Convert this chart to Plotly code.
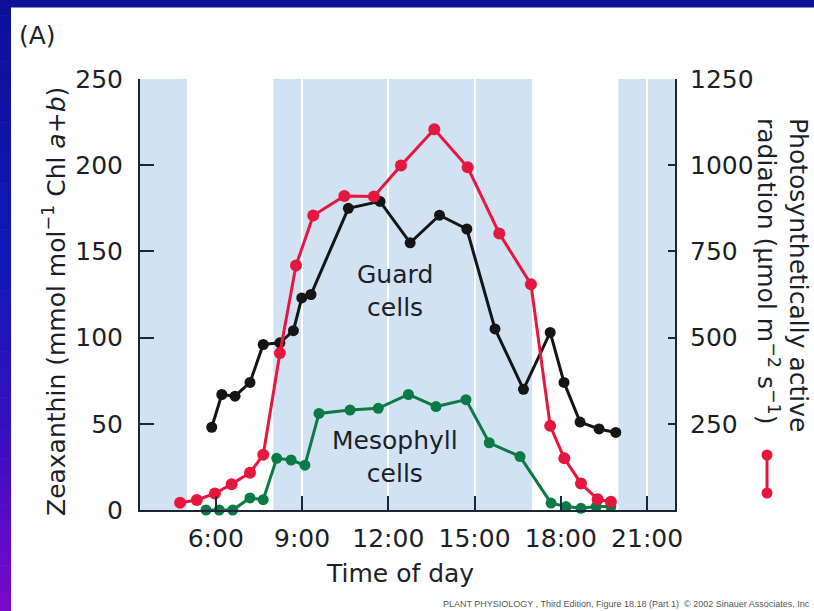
import plotly.graph_objects as go

# ---------------- data ----------------
guard_time = [5.86, 6.21, 6.67, 7.19, 7.65, 8.23, 8.70, 8.99, 9.31, 10.61, 11.71,
              12.76, 13.78, 14.73, 15.71, 16.70, 17.63, 18.11, 18.67, 19.33, 19.91]
guard_zea = [48, 67, 66, 74, 96, 97, 104, 123, 125, 175, 179,
             155, 171, 163, 105, 70, 103, 74, 51, 47, 45]

par_time = [4.76, 5.34, 5.97, 6.55, 7.19, 7.65, 8.23, 8.79, 9.39, 10.47, 11.50,
            12.44, 13.60, 14.76, 15.86, 16.96, 17.63, 18.12, 18.70, 19.28, 19.74]
par_value = [21, 29, 48, 75, 108, 160, 455, 709, 854, 911, 909,
             999, 1104, 994, 802, 655, 244, 150, 77, 31, 24]

meso_time = [5.66, 6.12, 6.59, 7.19, 7.65, 8.12, 8.62, 9.10, 9.59, 10.67, 11.65,
             12.70, 13.66, 14.70, 15.51, 16.58, 17.66, 18.18, 18.70, 19.23, 19.74]
meso_zea = [0, 0, 0, 7, 6, 30, 29, 26, 56, 58, 59,
            67, 60, 64, 39, 31, 4, 2, 1, 2, 2]

shade_bands = [(3.365, 5.0), (8.0, 17.0), (20.0, 21.97)]
x_tickvals = [6, 9, 12, 15, 18, 21]
x_ticktext = ["6:00", "9:00", "12:00", "15:00", "18:00", "21:00"]
left_ticks = [0, 50, 100, 150, 200, 250]
right_ticks = [250, 500, 750, 1000, 1250]

# ---------------- style ----------------
W, H = 814, 611
ML, MR, MT, MB = 140, 139, 79, 101
PW, PH = W - ML - MR, H - MT - MB
FONT = "DejaVu Sans"
FS = 25
TXT = "#1c1f2a"
AX = "#1e2633"
RED = "#e5173f"
BLACK = "#151515"
GREEN = "#0c7a46"
BAND = "#d1e2f3"


def px(x):
    return (x - ML) / PW


def py(y):
    return (H - MB - y) / PH


fig = go.Figure()

fig.add_trace(go.Scatter(x=meso_time, y=meso_zea, mode="lines+markers",
                         line=dict(color=GREEN, width=3),
                         marker=dict(color=GREEN, size=11),
                         cliponaxis=False, showlegend=False))
fig.add_trace(go.Scatter(x=guard_time, y=guard_zea, mode="lines+markers",
                         line=dict(color=BLACK, width=3),
                         marker=dict(color=BLACK, size=11),
                         cliponaxis=False, showlegend=False))
fig.add_trace(go.Scatter(x=par_time, y=par_value, mode="lines+markers", yaxis="y2",
                         line=dict(color=RED, width=3),
                         marker=dict(color=RED, size=12),
                         cliponaxis=False, showlegend=False))

shapes = []
for a, b in shade_bands:
    shapes.append(dict(type="rect", xref="x", yref="paper", x0=a, x1=b, y0=0, y1=1,
                       fillcolor=BAND, line=dict(width=0), layer="below"))

# frame: top band and left gradient strip
shapes.append(dict(type="rect", xref="paper", yref="paper", x0=px(0), x1=px(W),
                   y0=py(0), y1=py(7.5), fillcolor="#0d1297", line=dict(width=0)))
stops = [(0.0, (12, 16, 150)), (0.45, (18, 24, 186)), (0.7, (52, 16, 192)), (1.0, (122, 8, 202))]


def grad(t):
    for (t0, c0), (t1, c1) in zip(stops[:-1], stops[1:]):
        if t0 <= t <= t1:
            f = (t - t0) / (t1 - t0)
            return "rgb(%d,%d,%d)" % tuple(round(c0[i] + f * (c1[i] - c0[i])) for i in range(3))
    return "rgb(%d,%d,%d)" % stops[-1][1]


N = 40
for i in range(N):
    y0 = H * i / N
    y1 = H * (i + 1) / N + 0.6
    shapes.append(dict(type="rect", xref="paper", yref="paper", x0=px(0), x1=px(11),
                       y0=py(y0), y1=py(y1), fillcolor=grad((i + 0.5) / N), line=dict(width=0)))

# legend glyph for the right axis (red dot-line-dot)
gx, gy0, gy1 = 767, 455, 493
shapes.append(dict(type="line", xref="paper", yref="paper", x0=px(gx), x1=px(gx),
                   y0=py(gy0), y1=py(gy1), line=dict(color=RED, width=3)))
for gy in (gy0, gy1):
    r = 5.5
    shapes.append(dict(type="circle", xref="paper", yref="paper", x0=px(gx - r), x1=px(gx + r),
                       y0=py(gy + r), y1=py(gy - r), fillcolor=RED, line=dict(width=0)))


def ann(text, x, y, **kw):
    d = dict(text=text, xref="paper", yref="paper", x=px(x), y=py(y), showarrow=False,
             xanchor="center", yanchor="middle",
             font=dict(family=FONT, size=FS, color=TXT))
    d.update(kw)
    return d


annotations = [
    ann("(A)", 37, 35),
    ann("Zeaxanthin (mmol mol<sup>\u22121</sup> Chl <i>a</i>+<i>b</i>)", 54, 302, textangle=-90),
    ann("Photosynthetically active<br>radiation (\u03bcmol m<sup>\u22122</sup> s<sup>\u22121</sup>)",
        782, 116, yanchor="top", textangle=90, align="left"),
    ann("Time of day", 400, 573),
    dict(text="Guard<br>cells", xref="x", yref="y", x=12.23, y=127, showarrow=False,
         xanchor="center", yanchor="middle", font=dict(family=FONT, size=FS, color=TXT)),
    dict(text="Mesophyll<br>cells", xref="x", yref="y", x=12.23, y=31, showarrow=False,
         xanchor="center", yanchor="middle", font=dict(family=FONT, size=FS, color=TXT)),
    ann("PLANT PHYSIOLOGY , Third Edition, Figure 18.18 (Part 1)  \u00a9 2002 Sinauer Associates, Inc",
        812, 604, xanchor="right",
        font=dict(family="Liberation Sans, Arial", size=9, color="#555555")),
]

fig.update_layout(
    width=W, height=H, autosize=False,
    margin=dict(l=ML, r=MR, t=MT, b=MB, pad=0),
    paper_bgcolor="white", plot_bgcolor="white",
    showlegend=False,
    font=dict(family=FONT, size=FS, color=TXT),
    xaxis=dict(range=[3.365, 21.97], tickvals=x_tickvals, ticktext=x_ticktext,
               showgrid=True, gridcolor="white", gridwidth=1.5, zeroline=False,
               showline=True, linecolor=AX, linewidth=2,
               ticks="inside", ticklen=14, tickwidth=2, tickcolor=AX,
               ticklabelstandoff=5,
               tickfont=dict(family=FONT, size=FS, color=TXT)),
    yaxis=dict(range=[0, 250], tickvals=left_ticks, showgrid=False, zeroline=False,
               showline=True, linecolor=AX, linewidth=2,
               ticks="inside", ticklen=14, tickwidth=2, tickcolor=AX,
               ticklabelstandoff=10,
               tickfont=dict(family=FONT, size=FS, color=TXT)),
    yaxis2=dict(range=[0, 1250], tickvals=right_ticks, overlaying="y", side="right",
                showgrid=False, zeroline=False,
                showline=True, linecolor=AX, linewidth=2,
                ticks="inside", ticklen=7, tickwidth=2, tickcolor=AX,
                ticklabelstandoff=8,
                tickfont=dict(family=FONT, size=FS, color=TXT)),
    shapes=shapes,
    annotations=annotations,
)

fig.write_html("out.html", config={"displayModeBar": False},
               post_script="document.body.style.margin='0px';document.body.style.overflow='hidden';")
